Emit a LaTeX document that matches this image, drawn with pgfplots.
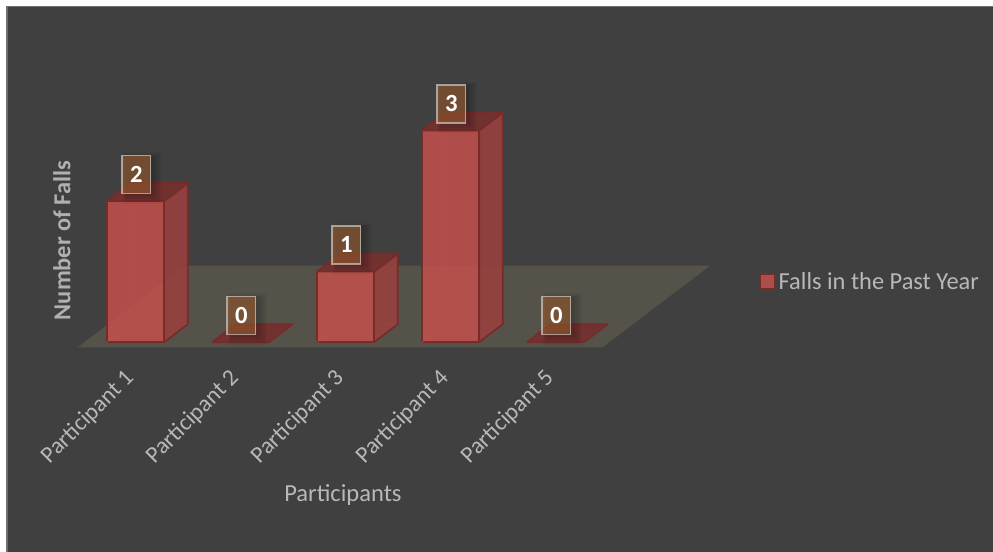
\documentclass[border=0pt]{standalone}
\usepackage{fontspec}
\setmainfont{Carlito}
\usepackage{pgfplots}
\pgfplotsset{compat=1.18}
\usetikzlibrary{shadows}

\definecolor{panel}{HTML}{404040}
\definecolor{panelrim}{HTML}{6E6E6E}
\definecolor{floorc}{HTML}{55524A}
\definecolor{barfill}{HTML}{C0504D}
\definecolor{barside}{HTML}{9B403E}
\definecolor{bartop}{HTML}{75302E}
\definecolor{baredge}{HTML}{772C2A}
\definecolor{labelbg}{HTML}{9D5E32}
\definecolor{labelrim}{HTML}{C9C2BA}
\definecolor{axistext}{HTML}{B8B8B8}
\definecolor{titletext}{HTML}{B0B0B0}

% Depth positions of the columns on the floor are 0.0625 (front) and 0.283 (back).
\newcommand{\columnbar}[3]{% left, right, value
  \addplot3[forget plot,fill=barfill,fill opacity=.87,draw=baredge,line width=1.3pt,line join=round]
    coordinates {(#1,0.0625,0)(#2,0.0625,0)(#2,0.0625,#3)(#1,0.0625,#3)(#1,0.0625,0)};
  \addplot3[forget plot,draw=barfill,draw opacity=.55,line width=.7pt]
    coordinates {(#1,0.0625,0)(#1,0.283,0)(#2,0.283,0)};
  \addplot3[forget plot,draw=barfill,draw opacity=.55,line width=.7pt]
    coordinates {(#1,0.283,0)(#1,0.283,#3)};
  \addplot3[forget plot,fill=barside,fill opacity=.85,draw=baredge,line width=1.3pt,line join=round]
    coordinates {(#2,0.0625,0)(#2,0.283,0)(#2,0.283,#3)(#2,0.0625,#3)(#2,0.0625,0)};
  \addplot3[forget plot,fill=bartop,fill opacity=.92,draw=baredge,line width=1.3pt,line join=round]
    coordinates {(#1,0.0625,#3)(#2,0.0625,#3)(#2,0.283,#3)(#1,0.283,#3)(#1,0.0625,#3)};
}
\newcommand{\flatbar}[3]{% left, right, value
  \addplot3[forget plot,fill=bartop,fill opacity=.92,draw=baredge,line width=1.3pt,line join=round]
    coordinates {(#1,0.0625,#3)(#2,0.0625,#3)(#2,0.283,#3)(#1,0.283,#3)(#1,0.0625,#3)};
}
\tikzset{
  valuebox/.style={
    general shadow={shadow xshift=3.5pt,shadow yshift=-2pt,shadow scale=1.35,fill=black,opacity=.04},
    general shadow={shadow xshift=3.5pt,shadow yshift=-2pt,shadow scale=1.25,fill=black,opacity=.05},
    general shadow={shadow xshift=3pt,shadow yshift=-1.5pt,shadow scale=1.15,fill=black,opacity=.06},
    general shadow={shadow xshift=2.5pt,shadow yshift=-1pt,shadow scale=1.05,fill=black,opacity=.07},
    draw=labelrim,line width=1pt,draw opacity=.75,fill=labelbg,fill opacity=.6,text opacity=1,
    text=white,font=\bfseries\fontsize{18.5}{19}\selectfont,
    minimum width=21.5pt,minimum height=28.5pt,inner sep=0pt,anchor=center,
    xshift=0.4pt,yshift=20pt}
}

\begin{document}
\begin{tikzpicture}[x=0.75pt,y=0.75pt]
  \path[use as bounding box] (0,0) rectangle (993,552);
  \fill[white] (0,0) rectangle (993,552);
  \fill[panelrim] (6,0) rectangle (993,546);
  \fill[panel] (7.5,0) rectangle (993,544.5);
  \begin{axis}[
    anchor=origin, at={(-182.9,250.6)},
    x={(78.75pt,0pt)}, y={(80.7pt,61.27pt)}, z={(0pt,52.9pt)},
    xmin=0, xmax=5, ymin=0, ymax=1, zmin=0, zmax=3,
    clip=false, no marks,
    axis line style={draw=none}, tick style={draw=none},
    ytick=\empty, ztick=\empty,
    xtick={0.5,1.5,2.5,3.5,4.5},
    xticklabels={Participant 1,Participant 2,Participant 3,Participant 4,Participant 5},
    xticklabel style={rotate=45,anchor=east,text=axistext,font=\fontsize{17.6}{18}\selectfont,xshift=-11pt,yshift=-14.7pt},
    xlabel={Participants},
    every axis x label/.style={at={(axis cs:2.527,0,-2.09)},anchor=center,text=axistext,font=\fontsize{18.4}{19}\selectfont},
    zlabel={Number of Falls},
    every axis z label/.style={at={(axis cs:-0.15,0,1.513)},anchor=center,rotate=90,text=titletext,font=\bfseries\fontsize{18.3}{19}\selectfont},
    legend style={at={(axis cs:6.49,0,0.932)},anchor=west,draw=none,fill=none,text=axistext,
      font=\fontsize{18.3}{19}\selectfont,inner sep=0pt},
  ]
    % floor of the chart
    \addplot3[forget plot,fill=floorc,draw=none]
      coordinates {(0,0,0)(5,0,0)(5,1,0)(0,1,0)(0,0,0)};

    \columnbar{0.215}{0.76}{2}
    \flatbar{1.215}{1.76}{0}
    \columnbar{2.215}{2.76}{1}
    \columnbar{3.215}{3.76}{3}
    \flatbar{4.215}{4.76}{0}

    \node[valuebox] at (axis cs:0.491,0.0625,2) {2};
    \node[valuebox] at (axis cs:1.491,0.0625,0) {0};
    \node[valuebox] at (axis cs:2.491,0.0625,1) {1};
    \node[valuebox] at (axis cs:3.491,0.0625,3) {3};
    \node[valuebox] at (axis cs:4.491,0.0625,0) {0};

    \addlegendimage{legend image code/.code={
      \draw[fill=barfill,fill opacity=.87,draw=baredge,line width=1.3pt] (-1.2pt,-5.5pt) rectangle (10pt,5.5pt);
    }}
    \addlegendentry{Falls in the Past Year}
  \end{axis}
\end{tikzpicture}
\end{document}
